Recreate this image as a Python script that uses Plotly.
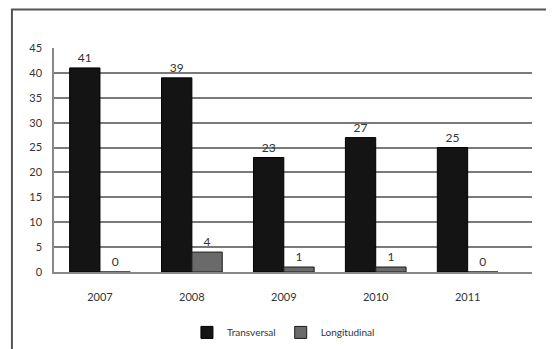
import plotly.graph_objects as go

# Data
years = ["2007", "2008", "2009", "2010", "2011"]
transversal = [41, 39, 23, 27, 25]
longitudinal = [0, 4, 1, 1, 0]

fig = go.Figure()

fig.add_trace(
    go.Bar(
        name="Transversal",
        x=years,
        y=transversal,
        text=transversal,
        textposition="outside",
        marker=dict(color="#141414", line=dict(color="#000000", width=1)),
        textfont=dict(color="#333333", size=12),
        cliponaxis=False,
    )
)
fig.add_trace(
    go.Bar(
        name="Longitudinal",
        x=years,
        y=longitudinal,
        text=longitudinal,
        textposition="outside",
        marker=dict(color="#6a6a6a", line=dict(color="#1a1a1a", width=1)),
        textfont=dict(color="#333333", size=12),
        cliponaxis=False,
    )
)

# the page body adds an 8px offset, so the figure is sized 8px smaller
fig.update_layout(
    width=546,
    height=341,
    margin=dict(l=46, r=22, t=40, b=77, autoexpand=False),
    paper_bgcolor="white",
    plot_bgcolor="white",
    font=dict(family="Lato, 'Open Sans', sans-serif", size=11, color="#333333"),
    barmode="group",
    bargap=0.34,
    bargroupgap=0.0,
    showlegend=True,
    legend=dict(
        orientation="h",
        x=0.48,
        xanchor="center",
        y=-0.205,
        yanchor="top",
        font=dict(size=10, color="#333333"),
        itemwidth=30,
        tracegroupgap=0,
    ),
    # outer chart border
    shapes=[
        dict(
            type="rect",
            xref="paper",
            yref="paper",
            x0=-0.088,
            x1=1.2,
            y0=-0.5,
            y1=1.172,
            line=dict(color="#555555", width=2),
            fillcolor="rgba(0,0,0,0)",
            layer="below",
        )
    ],
)

fig.update_xaxes(
    range=[-0.5, 4.7],
    automargin=False,
    showgrid=False,
    showline=True,
    linecolor="#888888",
    linewidth=1.5,
    ticks="",
    ticklabelstandoff=14,
    tickfont=dict(size=11, color="#333333"),
)
fig.update_yaxes(
    range=[0, 45],
    dtick=5,
    automargin=False,
    showgrid=True,
    gridcolor="#7a7a7a",
    gridwidth=1.5,
    showline=True,
    linecolor="#888888",
    linewidth=1.5,
    zeroline=False,
    ticks="",
    ticklabelstandoff=8,
    tickfont=dict(size=11, color="#333333"),
)

fig.write_html("out.html")
